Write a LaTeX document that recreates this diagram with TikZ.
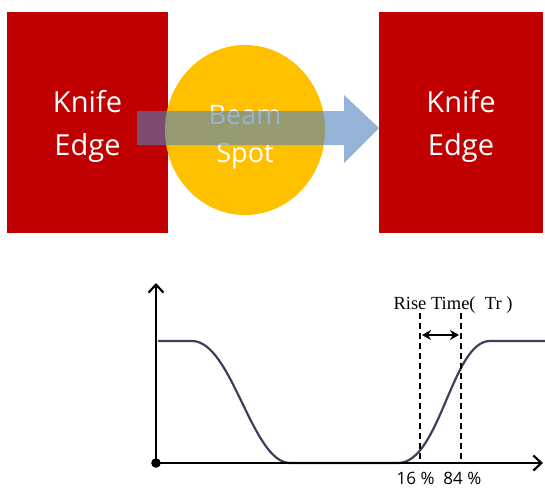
\documentclass[tikz,border=0pt]{standalone}
\usepackage{fontspec}
\setmainfont{Liberation Serif}
\newfontfamily\uisans{Open Sans}
\usetikzlibrary{arrows.meta,shapes.geometric}
\definecolor{knifered}{RGB}{192,0,0}
\definecolor{spotyellow}{RGB}{255,192,0}
\definecolor{beamblue}{RGB}{79,129,189}
\definecolor{curvecol}{RGB}{70,60,90}
\begin{document}
\begin{tikzpicture}[x=1pt,y=-1pt,
  knife/.style={fill=knifered, draw=none, inner sep=0pt, minimum height=221pt},
  lbl/.style={text=white, font=\uisans\fontsize{29}{43}\selectfont, align=center, inner sep=0pt},
  beamarrow/.style={fill=beamblue, fill opacity=0.6, draw=none},
  axisline/.style={line width=2.4pt, black},
  curveline/.style={line width=2.2pt, curvecol},
  dashline/.style={line width=2.4pt, black, dash pattern=on 6pt off 4pt},
  smalllbl/.style={font=\uisans\fontsize{17}{19}\selectfont, inner sep=0pt},
  riselbl/.style={font=\fontsize{18.5}{20}\selectfont, inner sep=0pt}]
\useasboundingbox (0,0) rectangle (545,487);
% top part
\node[knife, minimum width=161pt] (kl) at (87.5,122.5) {};
\node[knife, minimum width=164pt] (kr) at (461,122.5) {};
\node[ellipse, fill=spotyellow, draw=none, minimum width=160pt, minimum height=170pt, inner sep=0pt] (spot) at (245,130) {};
\node[lbl] (tl) at (87.5,126) {Knife\\Edge};
\node[lbl] (tr) at (461,126) {Knife\\Edge};
\node[lbl, font=\uisans\fontsize{27}{38}\selectfont] (ts) at (245,137) {Beam\\Spot};
\fill[beamarrow] (137,111) -- (344,111) -- (344,95) -- (379,128) -- (344,163) -- (344,145) -- (137,145) -- cycle;
% graph
\coordinate (o) at (156,463);
\coordinate (ytop) at (156,283);
\coordinate (xend) at (543,463);
\draw[curveline] (158,341) -- (192,341) .. controls (232,341) and (252,463) .. (290,463) -- (398,463) .. controls (440,463) and (452,341) .. (490,341) -- (545,341);
\draw[axisline, -{Straight Barb[length=8pt,width=15pt,line width=2.2pt]}] (o) -- (ytop);
\draw[axisline, -{Straight Barb[length=8pt,width=15pt,line width=2.2pt]}] (o) -- (xend);
\fill[black] (o) circle (4.8);
\coordinate (d1t) at (420,313);
\coordinate (d1b) at (420,463);
\coordinate (d2t) at (461,313);
\coordinate (d2b) at (461,463);
\draw[dashline] (d1t) -- (d1b);
\draw[dashline] (d2t) -- (d2b);
\coordinate (a1) at (422,335);
\coordinate (a2) at (459,335);
\draw[line width=2.4pt, {Stealth[length=9pt,width=10pt]}-{Stealth[length=9pt,width=10pt]}] (a1) -- (a2);
\node[riselbl, anchor=base] (rise) at (453,309) {Rise Time(\ \ Tr )};
\node[smalllbl] (pct) at (439,478) {16 \% \ 84 \%};
\end{tikzpicture}
\end{document}
